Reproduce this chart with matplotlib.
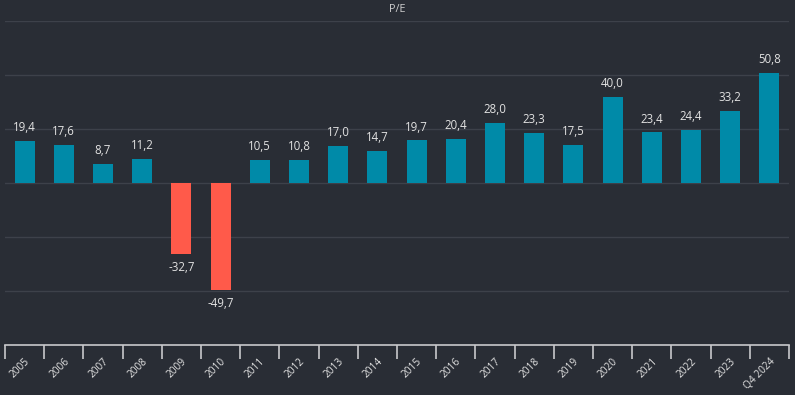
import numpy as np
import matplotlib.pyplot as plt

plt.rcParams['font.family'] = ['Open Sans', 'DejaVu Sans']

# P/E per year
years = ['2005', '2006', '2007', '2008', '2009', '2010', '2011', '2012', '2013', '2014',
         '2015', '2016', '2017', '2018', '2019', '2020', '2021', '2022', '2023', 'Q4 2024']
pe = [19.4, 17.6, 8.7, 11.2, -32.7, -49.7, 10.5, 10.8, 17.0, 14.7,
      19.7, 20.4, 28.0, 23.3, 17.5, 40.0, 23.4, 24.4, 33.2, 50.8]

bg = '#292d35'
pos_color = '#008aa8'
neg_color = '#ff5a4a'
text_color = '#e2e2e2'

fig = plt.figure(figsize=(7.95, 3.95), dpi=100, facecolor=bg)
ax = fig.add_axes([5 / 795, 1 - 345 / 395, 784 / 795, 324 / 395])
ax.set_facecolor(bg)

x = np.arange(len(years))
colors = [pos_color if v >= 0 else neg_color for v in pe]
ax.bar(x, pe, width=0.51, color=colors, zorder=3)

ax.set_xlim(-0.5, len(years) - 0.5)
ax.set_ylim(-75, 75)

# grid lines
for g in [75, 50, 25, 0, -25, -50]:
    ax.axhline(g, color='#3d414a', lw=1, zorder=1)

# value labels
for xi, v in zip(x, pe):
    label = f"{v:.1f}".replace('.', ',')
    if v >= 0:
        ax.annotate(label, (xi, v), xytext=(0, 5), textcoords='offset points',
                    ha='center', va='bottom', color=text_color, fontsize=8.3)
    else:
        ax.annotate(label, (xi, v), xytext=(0, -5), textcoords='offset points',
                    ha='center', va='top', color=text_color, fontsize=8.3)

for s in ['top', 'right', 'left']:
    ax.spines[s].set_visible(False)
ax.spines['bottom'].set_color('#c8c8cc')
ax.spines['bottom'].set_linewidth(1.2)
ax.set_yticks([])

# tick marks at category boundaries, labels at centres
ax.set_xticks(np.arange(-0.5, len(years), 1.0))
ax.set_xticklabels([])
ax.tick_params(axis='x', which='major', length=10, width=1.2, color='#c8c8cc')
ax.set_xticks(x, minor=True)
ax.set_xticklabels(years, minor=True, rotation=45, ha='right', rotation_mode='anchor',
                   color=text_color, fontsize=7.3)
ax.tick_params(axis='x', which='minor', length=0, pad=8)

fig.text(0.5, 1 - 10 / 395, 'P/E', ha='center', va='center', color='#cfcfcf', fontsize=7.8)

fig.savefig('out.png', dpi=100, facecolor=bg)
